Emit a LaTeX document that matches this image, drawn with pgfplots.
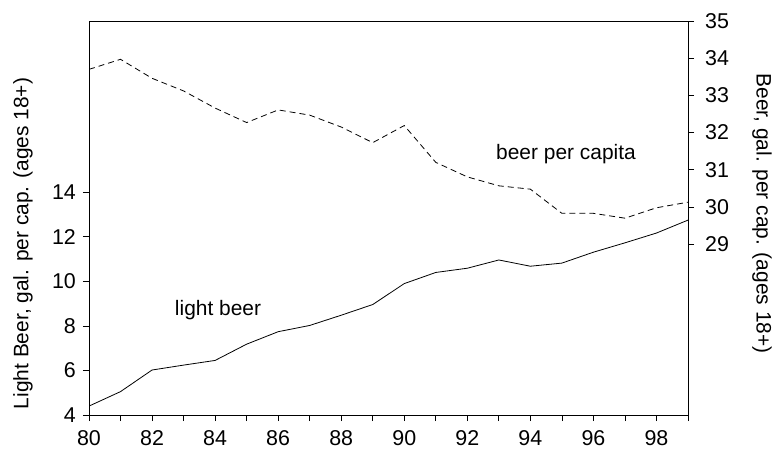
\documentclass[border=0pt]{standalone}
\usepackage{pgfplots}
\pgfplotsset{compat=1.18}
\usepackage{fontspec}
\setmainfont{Liberation Sans}
\begin{document}
\fontsize{21}{25}\selectfont
\begin{tikzpicture}
\path[use as bounding box] (0bp,0bp) rectangle (777bp,452bp);
\pgfplotsset{
  myax/.style={
    at={(89bp,37bp)}, anchor=south west,
    width=599bp, height=394bp, scale only axis,
    xmin=80, xmax=99,
    tick align=outside,
    major tick length=6bp, minor tick length=6bp,
    /pgf/number format/assume math mode=true,
    tick label style={font=\fontsize{21.5}{25}\selectfont},
    axis line style={line width=0.9bp},
    every tick/.style={black, line width=0.7bp},
  }
}
\begin{axis}[myax,
  ymin=4, ymax=21.69,
  tick pos=left,
  xtick={80,82,...,98}, minor xtick={81,83,...,99},
  ytick={4,6,...,14},
  xticklabel style={yshift=-2bp},
  yticklabel style={xshift=0bp},
]
\addplot[black, line width=0.8bp] coordinates {
(80,4.40) (81,5.05) (82,6.02) (83,6.24) (84,6.45) (85,7.18) (86,7.74) (87,8.02) (88,8.48) (89,8.96)
(90,9.90) (91,10.40) (92,10.59) (93,10.96) (94,10.68) (95,10.82) (96,11.31) (97,11.73) (98,12.17) (99,12.75)
};
\end{axis}
\begin{axis}[myax,
  ymin=24.41, ymax=35,
  axis y line*=right, axis x line=none,
  ytick={29,...,35},
  yticklabel style={xshift=4bp},
]
\addplot[black, line width=0.8bp, dash pattern=on 6bp off 4bp] coordinates {
(80,33.70) (81,33.97) (82,33.46) (83,33.12) (84,32.66) (85,32.27) (86,32.61) (87,32.47) (88,32.15) (89,31.73)
(90,32.19) (91,31.20) (92,30.81) (93,30.57) (94,30.48) (95,29.83) (96,29.83) (97,29.70) (98,29.98) (99,30.13)
};
\end{axis}
\node[rotate=90] at (23bp,208.5bp) {Light Beer, gal. per cap. (ages 18+)};
\node[rotate=-90] at (762bp,238.5bp) {Beer, gal. per cap. (ages 18+)};
\node[anchor=base] at (218bp,136bp) {light beer};
\node[anchor=base] at (566bp,292bp) {beer per capita};
\end{tikzpicture}
\end{document}
